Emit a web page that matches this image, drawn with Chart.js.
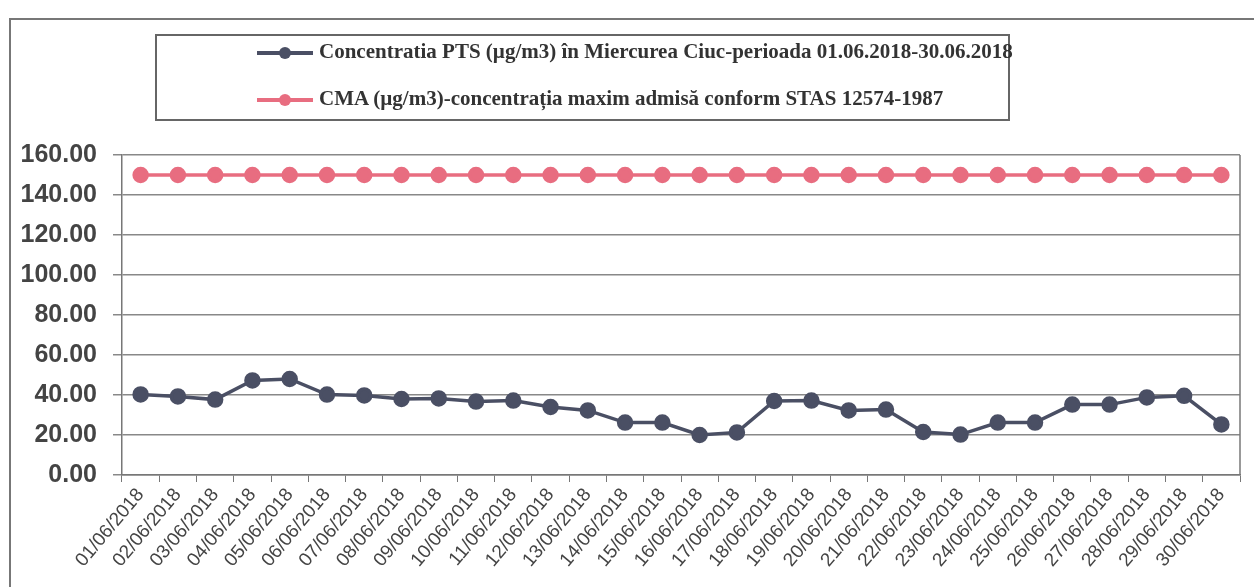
<!DOCTYPE html>
<html>
<head>
<meta charset="utf-8">
<script src="https://cdn.jsdelivr.net/npm/chart.js@4.4.1/dist/chart.umd.min.js"></script>
<style>
  html, body { margin: 0; padding: 0; background: #fff; }
  #wrap { position: relative; width: 1254px; height: 587px; overflow: hidden; }
  #frame { position: absolute; left: 9px; top: 18px; width: 1250px; height: 600px; border: 2px solid #777; box-sizing: border-box; }
  #legend { position: absolute; left: 155px; top: 34px; width: 855px; height: 87px; border: 2px solid #666; box-sizing: border-box; background: #fff; }
  .item { position: absolute; left: 100px; font-family: "Liberation Serif", serif; font-weight: bold; font-size: 21px; color: #333; white-space: nowrap; }
  .sample { display: inline-block; position: relative; width: 56px; height: 12px; vertical-align: middle; margin-right: 6px; }
  .sample .ln { position: absolute; left: 0; right: 0; top: 4px; height: 4px; }
  .sample .dt { position: absolute; left: 22px; top: 0; width: 12px; height: 12px; border-radius: 50%; }
  #c { position: absolute; left: 0; top: 0; }
</style>
</head>
<body>
<div id="wrap">
  <div id="frame"></div>
  <canvas id="c" width="1254" height="587"></canvas>
  <div id="legend"></div>
</div>
<script>
const days = ['01/06/2018','02/06/2018','03/06/2018','04/06/2018','05/06/2018','06/06/2018','07/06/2018','08/06/2018','09/06/2018','10/06/2018',
  '11/06/2018','12/06/2018','13/06/2018','14/06/2018','15/06/2018','16/06/2018','17/06/2018','18/06/2018','19/06/2018','20/06/2018',
  '21/06/2018','22/06/2018','23/06/2018','24/06/2018','25/06/2018','26/06/2018','27/06/2018','28/06/2018','29/06/2018','30/06/2018'];
const pts = [40.3, 39.3, 37.7, 47.3, 48.0, 40.2, 39.8, 38.0, 38.3, 36.7,
  37.2, 34.0, 32.3, 26.2, 26.2, 20.0, 21.3, 37.0, 37.2, 32.3,
  32.7, 21.5, 20.2, 26.2, 26.2, 35.2, 35.2, 38.8, 39.6, 25.3];
const cma = [150, 150, 150, 150, 150, 150, 150, 150, 150, 150,
  150, 150, 150, 150, 150, 150, 150, 150, 150, 150,
  150, 150, 150, 150, 150, 150, 150, 150, 150, 150];
const yTicks = [0, 20, 40, 60, 80, 100, 120, 140, 160];

const ptsLabel = 'Concentratia PTS (µg/m3) în Miercurea Ciuc-perioada 01.06.2018-30.06.2018';
const cmaLabel = 'CMA (µg/m3)-concentrația maxim admisă conform STAS 12574-1987';

// right edge of plot area
const frameLine = {
  id: 'frameLine',
  afterDraw(chart) {
    const a = chart.chartArea, ctx = chart.ctx;
    ctx.save();
    ctx.strokeStyle = '#777';
    ctx.lineWidth = 1.5;
    ctx.beginPath();
    ctx.moveTo(a.right, a.top);
    ctx.lineTo(a.right, a.bottom);
    ctx.stroke();
    ctx.restore();
  }
};

const chart = new Chart(document.getElementById('c'), {
  type: 'line',
  data: {
    labels: days,
    datasets: [{
      label: ptsLabel,
      data: pts,
      borderColor: '#4a4f64',
      backgroundColor: '#4a4f64',
      borderWidth: 3.5,
      pointRadius: 6.5,
      pointHoverRadius: 6.5
    }, {
      label: cmaLabel,
      data: cma,
      borderColor: '#e86d80',
      backgroundColor: '#e86d80',
      borderWidth: 3.5,
      pointRadius: 6.5,
      pointHoverRadius: 6.5
    }]
  },
  options: {
    responsive: false,
    animation: false,
    layout: { padding: { left: 10, top: 155, right: 14, bottom: 0 } },
    plugins: { legend: { display: false }, tooltip: { enabled: false } },
    scales: {
      x: {
        offset: true,
        afterFit: s => { s.height = 112; },
        grid: { drawOnChartArea: false, drawTicks: true, tickLength: 7, color: '#777', offset: true },
        border: { color: '#777', width: 1.5 },
        ticks: { minRotation: 50, maxRotation: 50, autoSkip: false, padding: 2,
          color: '#444', font: { family: 'Liberation Sans', size: 19 } }
      },
      y: {
        min: 0, max: 160,
        afterFit: s => { s.width = 112; },
        afterBuildTicks: s => { s.ticks = yTicks.map(v => ({ value: v })); },
        grid: { color: '#888', lineWidth: 1.5, tickLength: 9 },
        border: { color: '#777', width: 1.5 },
        ticks: { callback: v => v.toFixed(2), padding: 16, color: '#444',
          font: { family: 'Liberation Sans', size: 25, weight: 'bold' } }
      }
    }
  },
  plugins: [frameLine]
});

// legend built from the datasets
const legend = document.getElementById('legend');
chart.data.datasets.forEach((ds, i) => {
  const d = document.createElement('div');
  d.className = 'item';
  d.style.top = (i === 0 ? 3 : 50) + 'px';
  d.innerHTML = '<span class="sample"><span class="ln" style="background:' + ds.borderColor + '"></span>' +
    '<span class="dt" style="background:' + ds.borderColor + '"></span></span>';
  d.appendChild(document.createTextNode(ds.label));
  legend.appendChild(d);
});
</script>
</body>
</html>
